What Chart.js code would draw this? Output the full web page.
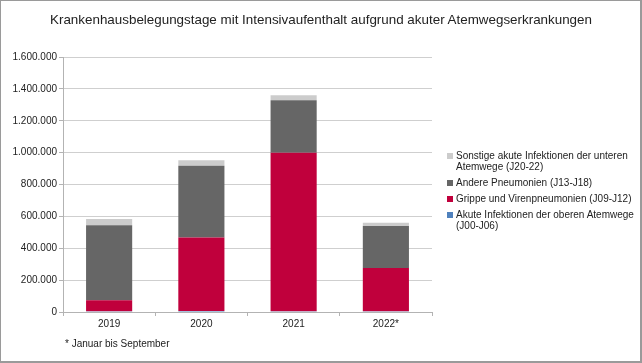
<!DOCTYPE html>
<html><head><meta charset="utf-8">
<script src="https://cdn.jsdelivr.net/npm/chart.js@4/dist/chart.umd.min.js"></script>
<style>
html,body{margin:0;padding:0;background:#fff;}
#frame{position:relative;width:642px;height:363px;box-sizing:border-box;border:1px solid #9a9a9a;border-right:2px solid #9a9a9a;border-bottom:2px solid #9a9a9a;overflow:hidden;font-family:"Liberation Sans",Arial,sans-serif;color:#222;}
#cv{position:absolute;left:-1px;top:-1px;}
#title{position:absolute;left:0;top:11px;width:640px;text-align:center;font-size:13.4px;}
#foot{position:absolute;left:64px;top:337px;font-size:10px;}
#legend{position:absolute;left:446px;top:149px;font-size:10px;line-height:11px;}
.li{display:flex;align-items:flex-start;margin-bottom:5px;}
.bx{width:6px;height:6px;margin-top:3px;margin-right:3px;flex:none;}
</style></head><body>
<div id="frame">
<canvas id="cv" width="642" height="363"></canvas>
<div id="title">Krankenhausbelegungstage mit Intensivaufenthalt aufgrund akuter Atemwegserkrankungen</div>
<div id="legend"></div>
<div id="foot">* Januar bis September</div>
</div>
<script>
const categories = ['2019','2020','2021','2022*'];
const akuteObere = [5000, 6000, 5000, 5000];
const grippe = [69000, 462000, 994000, 271000];
const anderePneumonien = [471000, 450000, 329000, 263000];
const sonstigeUntere = [38000, 34000, 32000, 21000];
const yTicks = [0,200000,400000,600000,800000,1000000,1200000,1400000,1600000];

const seriesNames = ['Akute Infektionen der oberen Atemwege (J00-J06)','Grippe und Virenpneumonien (J09-J12)','Andere Pneumonien (J13-J18)','Sonstige akute Infektionen der unteren Atemwege (J20-22)'];
const seriesColors = ['#4f81bd','#c0003c','#666666','#cccccc'];
const seriesData = [akuteObere, grippe, anderePneumonien, sonstigeUntere];

function fmt(v){return String(v).replace(/\B(?=(\d{3})+(?!\d))/g,'.');}

const datasets = seriesData.map((d,i)=>({label:seriesNames[i],data:d,backgroundColor:seriesColors[i],borderWidth:0,categoryPercentage:1,barPercentage:0.5}));

const legend = document.getElementById('legend');
for(let i=seriesNames.length-1;i>=0;i--){
  const div=document.createElement('div');div.className='li';
  const b=document.createElement('span');b.className='bx';b.style.background=seriesColors[i];
  const t=document.createElement('span');
  if(i===3){t.innerHTML='Sonstige akute Infektionen der unteren<br>Atemwege (J20-22)';}
  else if(i===0){t.innerHTML='Akute Infektionen der oberen Atemwege<br>(J00-J06)';}
  else t.textContent=seriesNames[i];
  div.appendChild(b);div.appendChild(t);legend.appendChild(div);
}

new Chart(document.getElementById('cv'),{
  type:'bar',
  data:{labels:categories,datasets},
  options:{
    responsive:false,animation:false,
    layout:{padding:{top:57,right:210,bottom:31,left:0}},
    plugins:{legend:{display:false},title:{display:false},tooltip:{enabled:false}},
    scales:{
      x:{stacked:true,
        grid:{offset:true,drawOnChartArea:true,color:(c)=>c.index===4?'#b3b3b3':'rgba(0,0,0,0)',tickColor:'#b3b3b3',tickLength:4},
        border:{color:'#b3b3b3'},
        ticks:{color:'#222',font:{family:'Liberation Sans',size:10},padding:2},
        afterFit:(s)=>{s.height=20;}
      },
      y:{stacked:true,min:0,max:1600000,
        afterBuildTicks:(s)=>{s.ticks=yTicks.map(v=>({value:v}));},
        grid:{color:'#cfcfcf',tickColor:'#b3b3b3',tickLength:4},
        border:{color:'#b3b3b3'},
        ticks:{color:'#222',font:{family:'Liberation Sans',size:10},padding:2,callback:(v)=>fmt(v)},
        afterFit:(s)=>{s.width=63;}
      }
    }
  }
});
</script>
</body></html>
